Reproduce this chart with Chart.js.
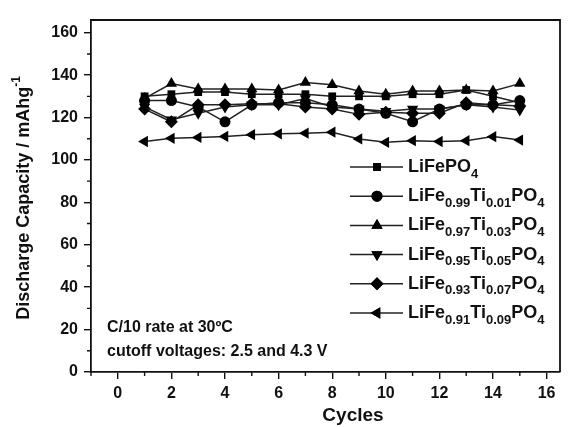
<!DOCTYPE html>
<html>
<head>
<meta charset="utf-8">
<script src="https://cdn.jsdelivr.net/npm/chart.js@4/dist/chart.umd.min.js"></script>
<style>
html,body{margin:0;padding:0;background:#fff;}
#wrap{width:574px;height:427px;position:relative;}
</style>
</head>
<body>
<div id="wrap"><canvas id="c" width="574" height="427"></canvas></div>
<script>
const cycles = [1,2,3,4,5,6,7,8,9,10,11,12,13,14,15];
const lifepo4 = [130,131,132,132,131,131,131,130,130,130,131,131,133,130,127];
const ti001   = [128,128,125,118,126,127,127,126,124,122,118,124,126,126,128];
const ti003   = [129,136,133.5,133.5,133.5,133,136.5,135.5,132.5,131,132.5,132.5,133,132.5,136];
const ti005   = [125,119,122,125,126,126,129,125,124,123,124,124,126,125,123.5];
const ti007   = [124,118,126,126,126.5,126.5,125,124,121.5,122.5,122,122,127,126,125.5];
const ti009   = [108.7,110.2,110.6,111.1,111.9,112.3,112.6,113.1,109.9,108.3,109.1,108.7,109.1,111,109.4];

const xTicks = [0,2,4,6,8,10,12,14,16];
const xMinor = [-1,1,3,5,7,9,11,13,15];
const yTicks = [0,20,40,60,80,100,120,140,160];
const yMinor = [10,30,50,70,90,110,130,150];

const legendLabels = [
  [["LiFePO",0],["4",1]],
  [["LiFe",0],["0.99",1],["Ti",0],["0.01",1],["PO",0],["4",1]],
  [["LiFe",0],["0.97",1],["Ti",0],["0.03",1],["PO",0],["4",1]],
  [["LiFe",0],["0.95",1],["Ti",0],["0.05",1],["PO",0],["4",1]],
  [["LiFe",0],["0.93",1],["Ti",0],["0.07",1],["PO",0],["4",1]],
  [["LiFe",0],["0.91",1],["Ti",0],["0.09",1],["PO",0],["4",1]]
];
const seriesValues = [lifepo4, ti001, ti003, ti005, ti007, ti009];
const styles = [
  {pointStyle:'rect', rotation:0, r:5.5},
  {pointStyle:'circle', rotation:0, r:5.5},
  {pointStyle:'triangle', rotation:0, r:6.5},
  {pointStyle:'triangle', rotation:180, r:6.5},
  {pointStyle:'rectRot', rotation:0, r:6.5},
  {pointStyle:'triangle', rotation:-90, r:6.5}
];
const notes = ["C/10 rate at 30ºC", "cutoff voltages: 2.5 and 4.3 V"];
const xTitle = "Cycles";
const yTitle = "Discharge Capacity / mAhg";
const yTitleSup = "-1";

const FONT = "'Liberation Sans', Arial, sans-serif";
const INK = '#111';

const datasets = seriesValues.map((vals,i)=>({
  label: legendLabels[i].map(p=>p[0]).join(''),
  data: cycles.map((c,j)=>({x:c,y:vals[j]})),
  borderColor: '#222',
  backgroundColor: '#000',
  borderWidth: 1.5,
  pointStyle: styles[i].pointStyle,
  pointRotation: styles[i].rotation,
  pointRadius: styles[i].r,
  pointBorderWidth: 0,
  pointBackgroundColor: '#000',
  tension: 0
}));

const decor = {
  id:'decor',
  afterDraw(chart){
    const ctx = chart.ctx, ca = chart.chartArea;
    const xs = chart.scales.x, ys = chart.scales.y;
    ctx.save();
    ctx.strokeStyle = INK; ctx.lineWidth = 1.8;
    ctx.beginPath();
    ctx.moveTo(ca.left, ca.top); ctx.lineTo(ca.right, ca.top); ctx.lineTo(ca.right, ca.bottom);
    ctx.stroke();
    ctx.lineWidth = 1.4;
    ctx.beginPath();
    xMinor.forEach(v=>{const px=xs.getPixelForValue(v); ctx.moveTo(px,ca.bottom); ctx.lineTo(px,ca.bottom+4);});
    yMinor.forEach(v=>{const py=ys.getPixelForValue(v); ctx.moveTo(ca.left,py); ctx.lineTo(ca.left-4,py);});
    ctx.stroke();

    ctx.fillStyle = INK;
    ctx.font = "bold 16px " + FONT;
    ctx.textBaseline = 'middle'; ctx.textAlign='left';
    ctx.fillText(notes[0], 107, 328);
    ctx.fillText(notes[1], 107, 352);

    ctx.font = "bold 19px " + FONT;
    ctx.textAlign='center';
    ctx.fillText(xTitle, 353, 416);

    ctx.save();
    ctx.translate(24, 198);
    ctx.rotate(-Math.PI/2);
    ctx.font = "bold 18px " + FONT;
    const w1 = ctx.measureText(yTitle).width;
    ctx.font = "bold 12px " + FONT;
    const w2 = ctx.measureText(yTitleSup).width;
    const total = w1 + w2;
    ctx.textAlign='left';
    ctx.font = "bold 18px " + FONT;
    ctx.fillText(yTitle, -total/2, 0);
    ctx.font = "bold 12px " + FONT;
    ctx.fillText(yTitleSup, -total/2 + w1, -7);
    ctx.restore();

    const rowY0 = 167, rowStep = 29.2;
    legendLabels.forEach((parts,i)=>{
      const y = rowY0 + i*rowStep;
      ctx.strokeStyle = '#222'; ctx.lineWidth = 1.5;
      ctx.beginPath(); ctx.moveTo(350,y); ctx.lineTo(403,y); ctx.stroke();
      ctx.fillStyle = '#000';
      Chart.helpers.drawPoint(ctx, {pointStyle: styles[i].pointStyle, rotation: styles[i].rotation, radius: styles[i].r, borderWidth: 0}, 377, y);
      ctx.fill();
      let x = 408;
      ctx.fillStyle = INK; ctx.textAlign='left'; ctx.textBaseline='middle';
      parts.forEach(([t,sub])=>{
        if(sub){ ctx.font = "bold 13px " + FONT; ctx.fillText(t, x, y+7); }
        else { ctx.font = "bold 18px " + FONT; ctx.fillText(t, x, y); }
        x += ctx.measureText(t).width;
      });
    });
    ctx.restore();
  }
};

new Chart(document.getElementById('c'), {
  type:'line',
  data:{datasets},
  options:{
    responsive:false,
    animation:false,
    layout:{padding:{top:20,right:14,left:0,bottom:0}},
    plugins:{legend:{display:false}, tooltip:{enabled:false}},
    scales:{
      x:{
        type:'linear', min:-1, max:16.5,
        afterBuildTicks(s){ s.ticks = xTicks.map(v=>({value:v})); },
        afterFit(s){ s.height = 55; },
        border:{display:true, color:INK, width:1.8},
        grid:{display:true, drawOnChartArea:false, drawTicks:true, tickLength:7, color:INK, lineWidth:1.4},
        ticks:{color:INK, font:{family:FONT, size:16, weight:'bold'}, padding:5, maxRotation:0, autoSkip:false}
      },
      y:{
        type:'linear', min:0, max:166,
        afterBuildTicks(s){ s.ticks = yTicks.map(v=>({value:v})); },
        afterFit(s){ s.width = 91; },
        border:{display:true, color:INK, width:1.8},
        grid:{display:true, drawOnChartArea:false, drawTicks:true, tickLength:7, color:INK, lineWidth:1.4},
        ticks:{color:INK, font:{family:FONT, size:16, weight:'bold'}, padding:6, autoSkip:false}
      }
    }
  },
  plugins:[decor]
});
</script>
</body>
</html>
